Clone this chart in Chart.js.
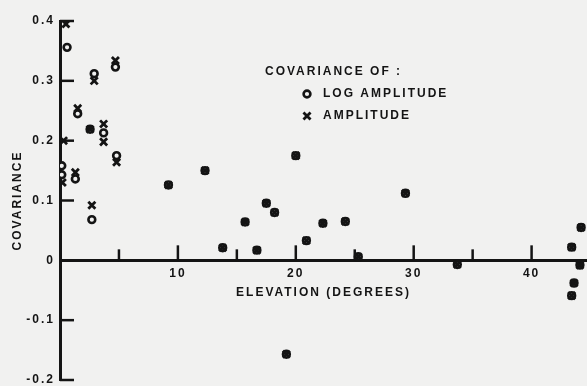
<!DOCTYPE html>
<html>
<head>
<meta charset="utf-8">
<script src="https://cdn.jsdelivr.net/npm/chart.js@4.4.1/dist/chart.umd.min.js"></script>
<style>
  html, body { margin: 0; padding: 0; background: #f1f1f0; overflow: hidden; }
  #wrap { width: 587px; height: 386px; }
  canvas { display: block; }
</style>
</head>
<body>
<div id="wrap"><canvas id="grafico"></canvas></div>
<script>
// pontos onde aparece so o circulo (log amplitude)
const logElev = [0.6, 2.9, 4.7, 1.5, 3.7, 4.8, 0.15, 0.15, 1.3, 2.7]
const logCov = [0.356, 0.312, 0.323, 0.245, 0.213, 0.175, 0.158, 0.143, 0.136, 0.068]

// pontos onde aparece so o X (amplitude)
const ampElev = [0.5, 2.9, 4.7, 1.5, 3.7, 3.7, 4.8, 0.3, 0.2, 1.3, 2.7]
const ampCov = [0.395, 0.300, 0.334, 0.254, 0.228, 0.198, 0.164, 0.200, 0.130, 0.147, 0.092]

// pontos em que os dois coincidem (quadradinhos pretos)
const bothElev = [2.55, 9.2, 12.3, 13.8, 15.7, 16.7, 17.5, 18.2, 19.2, 20.0, 20.9, 22.3, 24.2, 25.3, 29.3, 33.7, 43.4, 43.4, 43.6, 44.1, 44.2]
const bothCov = [0.219, 0.126, 0.150, 0.021, 0.064, 0.017, 0.0955, 0.080, -0.157, 0.175, 0.033, 0.062, 0.065, 0.006, 0.112, -0.007, 0.022, -0.059, -0.038, -0.008, 0.055]

const xLabels = [10, 20, 30, 40]
const legendTitle = 'COVARIANCE OF :'
const seriesNames = ['LOG AMPLITUDE', 'AMPLITUDE']

const fonte = { family: "'Liberation Sans', Arial, sans-serif", size: 12, weight: 'bold' }
const tinta = '#141414'
const fundo = '#f1f1f0'

function pontos(xs, ys) {
  return xs.map((x, i) => ({ x: x, y: ys[i] }))
}

const logPoints = pontos(logElev.concat(bothElev), logCov.concat(bothCov))
const ampPoints = pontos(ampElev.concat(bothElev), ampCov.concat(bothCov))

// espacamento entre letras, como no letreiro do original
const espacamento = {
  id: 'espacamento',
  beforeUpdate(chart) { chart.ctx.letterSpacing = '2px' },
  beforeDraw(chart) { chart.ctx.letterSpacing = '2px' }
}

// marcas dos eixos viradas para dentro
const marcasInternas = {
  id: 'marcasInternas',
  afterDraw(chart) {
    const { ctx, chartArea, scales: { x, y } } = chart
    const y0 = y.getPixelForValue(0)
    ctx.save()
    ctx.strokeStyle = tinta
    ctx.lineWidth = 2.5
    y.ticks.forEach(t => {
      const py = y.getPixelForValue(t.value)
      ctx.beginPath()
      ctx.moveTo(chartArea.left, py)
      ctx.lineTo(chartArea.left + 14, py)
      ctx.stroke()
    })
    x.ticks.forEach(t => {
      if (t.value <= 0 || t.value % 5 !== 0) return
      const px = x.getPixelForValue(t.value)
      const tam = t.value % 10 === 0 ? 15 : 11
      ctx.beginPath()
      ctx.moveTo(px, y0)
      ctx.lineTo(px, y0 - tam)
      ctx.stroke()
    })
    ctx.restore()
  }
}

// legenda dentro do grafico
const legendaInterna = {
  id: 'legendaInterna',
  afterDraw(chart) {
    const ctx = chart.ctx
    ctx.save()
    ctx.letterSpacing = '2px'
    ctx.font = "bold 12px 'Liberation Sans', Arial, sans-serif"
    ctx.textBaseline = 'middle'
    ctx.textAlign = 'left'
    ctx.fillStyle = tinta
    ctx.fillText(legendTitle, 265, 72)
    const linhas = [94, 116]
    chart.data.datasets.forEach((ds, i) => {
      ctx.strokeStyle = tinta
      ctx.lineWidth = ds.pointBorderWidth
      ctx.fillStyle = ds.pointBackgroundColor
      Chart.helpers.drawPoint(ctx, {
        pointStyle: ds.pointStyle,
        radius: ds.pointRadius,
        borderWidth: ds.pointBorderWidth
      }, 307, linhas[i])
      ctx.fillStyle = tinta
      ctx.fillText(ds.label, 323, linhas[i])
    })
    ctx.restore()
  }
}

// tira a folga que o chart.js deixa para os rotulos
function semFolga(scale) {
  scale.paddingTop = 0
  scale.paddingBottom = 0
  scale.paddingLeft = 0
  scale.paddingRight = 0
}

new Chart(document.getElementById('grafico'), {
  type: 'scatter',
  data: {
    datasets: [{
      label: seriesNames[0],
      data: logPoints,
      order: 2,
      pointStyle: 'circle',
      pointRadius: 3.4,
      pointBorderWidth: 2.6,
      pointBorderColor: tinta,
      pointBackgroundColor: fundo
    }, {
      label: seriesNames[1],
      data: ampPoints,
      order: 1,
      pointStyle: 'crossRot',
      pointRadius: 5,
      pointBorderWidth: 2.8,
      pointBorderColor: tinta,
      pointBackgroundColor: tinta
    }]
  },
  options: {
    responsive: true,
    maintainAspectRatio: false,
    animation: false,
    layout: { autoPadding: false, padding: { top: 21, right: 0, bottom: 6, left: 0 } },
    plugins: {
      legend: { display: false },
      tooltip: { enabled: false }
    },
    scales: {
      x: {
        type: 'linear',
        position: { y: 0 },
        min: 0,
        max: 44.7,
        grid: { display: false, drawTicks: false },
        border: { display: true, color: tinta, width: 3 },
        afterFit: semFolga,
        ticks: {
          stepSize: 5,
          autoSkip: false,
          maxRotation: 0,
          padding: 6,
          color: tinta,
          font: fonte,
          callback: value => xLabels.includes(value) ? String(value) : ''
        },
        title: {
          display: true,
          text: 'ELEVATION (DEGREES)',
          color: tinta,
          font: { ...fonte, lineHeight: 1.0 },
          padding: { top: 0, bottom: 0 }
        }
      },
      y: {
        type: 'linear',
        min: -0.2,
        max: 0.4,
        grid: { display: false, drawTicks: false },
        border: { display: true, color: tinta, width: 3 },
        afterFit: scale => { scale.width = 60; semFolga(scale) },
        ticks: {
          stepSize: 0.1,
          padding: 5,
          color: tinta,
          font: fonte,
          callback: value => {
            const v = Math.round(value * 10) / 10
            return v === 0 ? '0' : v.toFixed(1)
          }
        },
        title: {
          display: true,
          text: 'COVARIANCE',
          color: tinta,
          font: fonte,
          padding: { top: 10, bottom: 0 }
        }
      }
    }
  },
  plugins: [espacamento, marcasInternas, legendaInterna]
})
</script>
</body>
</html>
